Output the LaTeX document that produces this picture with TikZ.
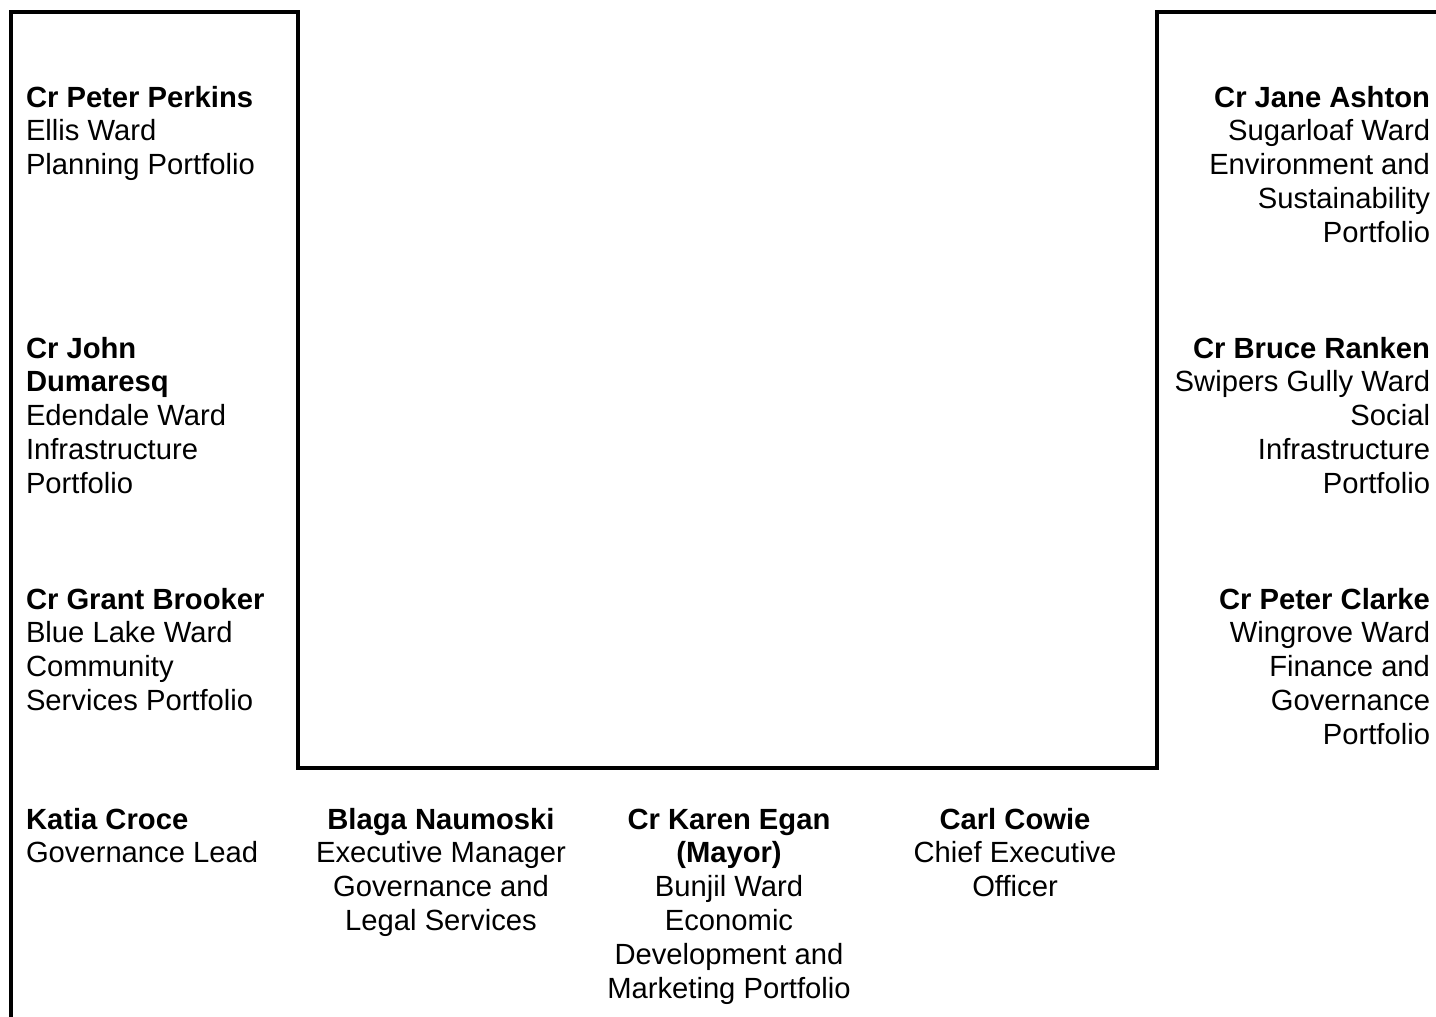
\documentclass[tikz,border=0pt]{standalone}
\usepackage{fontspec}
\setmainfont{Liberation Sans}
\begin{document}
\begin{tikzpicture}[x=0.5pt,y=-0.5pt]
\tikzset{
  person/.style={inner sep=0pt, outer sep=0pt, font=\fontsize{14.6}{16.9}\selectfont},
  lcol/.style={person, anchor=base west, align=left},
  rcol/.style={person, anchor=base east, align=right},
  ccol/.style={person, anchor=base, align=center},
  frame/.style={line width=2pt, miter limit=10}
}
\useasboundingbox[fill=white] (0,0) rectangle (1436,1017);
% frame
\coordinate (fa) at (11,1020);
\coordinate (fb) at (11,12);
\coordinate (fc) at (298,12);
\coordinate (fd) at (298,768);
\coordinate (fe) at (1157,768);
\coordinate (ff) at (1157,12);
\coordinate (fg) at (1440,12);
\draw[frame] (fa) -- (fb) -- (fc) -- (fd) -- (fe) -- (ff) -- (fg);
% left column (positions give the baseline of the last line)
\node[lcol] (perkins) at (26,174.6) {\textbf{Cr Peter Perkins}\\Ellis Ward\\Planning Portfolio};
\node[lcol] (dumaresq) at (26,493.2) {\textbf{Cr John}\\\textbf{Dumaresq}\\Edendale Ward\\Infrastructure\\Portfolio};
\node[lcol] (brooker) at (26,710.4) {\textbf{Cr Grant Brooker}\\Blue Lake Ward\\Community\\Services Portfolio};
% right column
\node[rcol] (ashton) at (1430,242.2) {\textbf{Cr Jane Ashton}\\Sugarloaf Ward\\Environment and\\Sustainability\\Portfolio};
\node[rcol] (ranken) at (1430,493.2) {\textbf{Cr Bruce Ranken}\\Swipers Gully Ward\\Social\\Infrastructure\\Portfolio};
\node[rcol] (clarke) at (1430,744.2) {\textbf{Cr Peter Clarke}\\Wingrove Ward\\Finance and\\Governance\\Portfolio};
% bottom row
\node[lcol] (croce) at (26,862.8) {\textbf{Katia Croce}\\Governance Lead};
\node[ccol] (naumoski) at (441,930.4) {\textbf{Blaga Naumoski}\\Executive Manager\\Governance and\\Legal Services};
\node[ccol] (egan) at (729,998) {\textbf{Cr Karen Egan}\\\textbf{(Mayor)}\\Bunjil Ward\\Economic\\Development and\\Marketing Portfolio};
\node[ccol] (cowie) at (1015,896.6) {\textbf{Carl Cowie}\\Chief Executive\\Officer};
\end{tikzpicture}
\end{document}
